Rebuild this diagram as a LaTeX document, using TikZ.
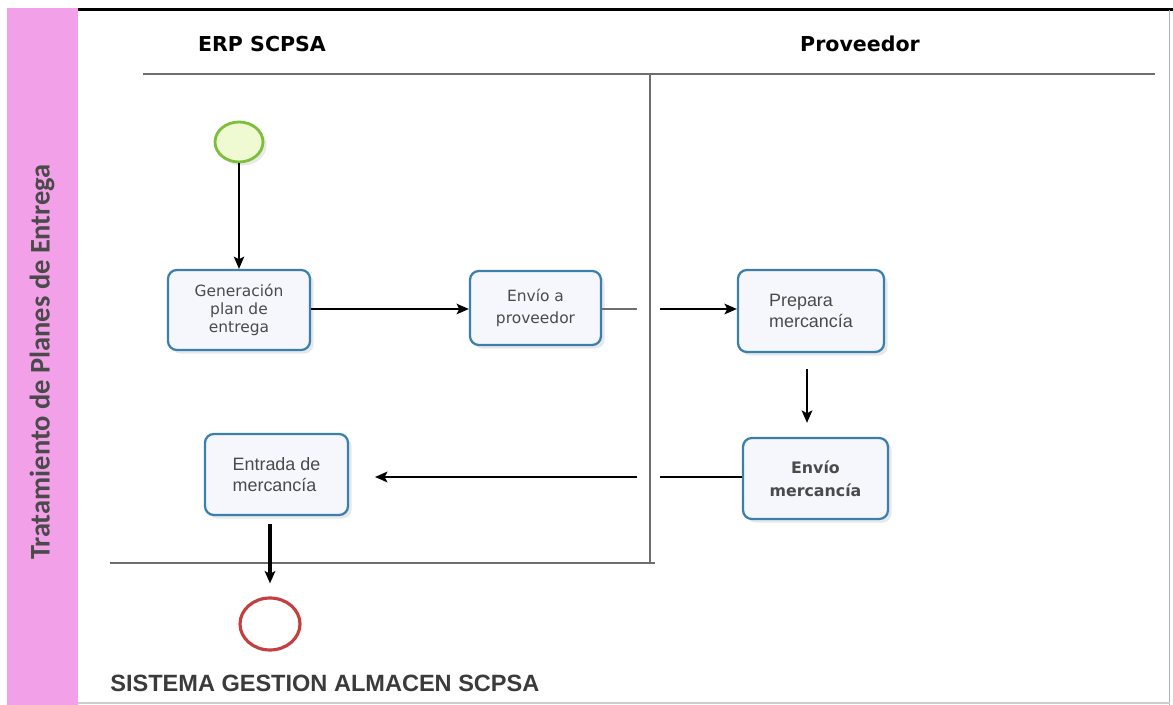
\documentclass[tikz,border=0pt]{standalone}
\usepackage{fontspec}
\usepackage{xcolor}
\usetikzlibrary{arrows.meta,shapes.geometric,shadows}
\newfontfamily\verd{DejaVu Sans}
\newfontfamily\arialf{Liberation Sans}
\newfontfamily\calib{Carlito}
\definecolor{lanepink}{HTML}{F2A0E8}
\definecolor{taskblue}{HTML}{3B80AC}
\definecolor{taskfill}{HTML}{F5F7FD}
\definecolor{startgreen}{HTML}{7CBF3A}
\definecolor{startfill}{HTML}{EFF9D2}
\definecolor{endred}{HTML}{C4403F}
\definecolor{lanegray}{HTML}{6E6E6E}
\definecolor{txtgray}{HTML}{4A4A4A}

\begin{document}
\begin{tikzpicture}[x=0.02cm,y=-0.02cm,
    task/.style={draw=taskblue, line width=1.3pt, fill=taskfill, rounded corners=5pt,
      inner sep=2pt, text=txtgray,
      drop shadow={opacity=0.18, shadow xshift=2pt, shadow yshift=-2pt}},
    vtext/.style={font={\verd\fontsize{8.8pt}{10.2pt}\selectfont}},
    atext/.style={font={\arialf\fontsize{10.2pt}{11.8pt}\selectfont}},
    lane/.style={draw=lanegray, line width=0.9pt},
    flow/.style={-{Stealth[length=7pt,width=6pt,inset=1.5pt]}, line width=1pt}]
  \useasboundingbox (0,0) rectangle (1173,705);
  \fill[lanepink] (7,8) rectangle (78,705);
  \node[rotate=90, text=txtgray, font={\calib\bfseries\fontsize{16.2pt}{18pt}\selectfont}] (side) at (42,362)
    {Tratamiento de Planes de Entrega};
  \draw[line width=1.7pt] (78,10) -- (1173,10);
  \draw[black!30, line width=0.6pt] (1169.5,10) -- (1169.5,705);
  \draw[black!20, line width=0.6pt] (78,703) -- (1169.5,703);

  \node[font={\verd\bfseries\fontsize{11.7pt}{14pt}\selectfont}] (h1) at (262,44) {ERP SCPSA};
  \node[font={\verd\bfseries\fontsize{11.7pt}{14pt}\selectfont}] (h2) at (860,44) {Proveedor};
  \draw[lane] (143,74) -- (1155,74);
  \draw[lane] (650,74) -- (650,563);
  \draw[lane] (110,563) -- (655,563);

  \node[ellipse, draw=startgreen, line width=1.6pt, fill=startfill, minimum width=0.96cm,
    minimum height=0.8cm, drop shadow={opacity=0.18, shadow xshift=2pt, shadow yshift=-2pt}] (s) at (239,142) {};
  \node[task, vtext, minimum width=2.84cm, minimum height=1.6cm, align=center] (t1) at (239,310)
    {Generación\\plan de\\entrega};
  \node[task, vtext, minimum width=2.62cm, minimum height=1.48cm, align=center] (t2) at (535.5,308)
    {Envío a\\[2pt]proveedor};
  \node[task, atext, minimum width=2.92cm, minimum height=1.64cm, align=left] (t3) at (811,311)
    {Prepara\\mercancía};
  \node[task, font={\verd\bfseries\fontsize{9pt}{13pt}\selectfont}, minimum width=2.9cm,
    minimum height=1.62cm, align=center] (t4) at (815.5,478.5)
    {Envío\\mercancía};
  \node[task, atext, minimum width=2.86cm, minimum height=1.62cm, align=left] (t5) at (276.5,474.5)
    {Entrada de\\mercancía};
  \node[ellipse, draw=endred, line width=1.8pt, fill=white, minimum width=1.2cm,
    minimum height=1.04cm] (e) at (270,624) {};

  \coordinate (g1) at (637,309);
  \coordinate (g2) at (660,309);
  \coordinate (g3) at (660,477);
  \coordinate (g4) at (637,477);
  \coordinate (g5) at (375,477);

  \draw[flow, line width=0.8pt] (s) -- (t1);
  \draw[flow] (t1.east |- g1) -- (t2.west |- g1);
  \draw[line width=1pt, lanegray] (t2.east |- g1) -- (g1);
  \draw[flow, line width=1.2pt] (g2) -- (t3.west |- g2);
  \draw[flow, line width=1.4pt, shorten <=0.32cm, shorten >=0.28cm]
    ([xshift=-0.08cm]t3.south) -- ([xshift=-0.08cm]t3.south |- t4.north);
  \draw[line width=1.4pt] (t4.west |- g3) -- (g3);
  \draw[flow, line width=1.4pt] (g4) -- (g5);
  \draw[flow, line width=2.2pt, shorten <=0.16cm, shorten >=0.26cm]
    ([xshift=-0.13cm]t5.south) -- ([xshift=-0.13cm]t5.south |- e.north);

  \node[anchor=west, inner sep=0pt, text=txtgray!80!black,
    font={\arialf\bfseries\fontsize{13.4pt}{16pt}\selectfont}] (foot) at (110,683)
    {SISTEMA GESTION ALMACEN SCPSA};
\end{tikzpicture}
\end{document}
